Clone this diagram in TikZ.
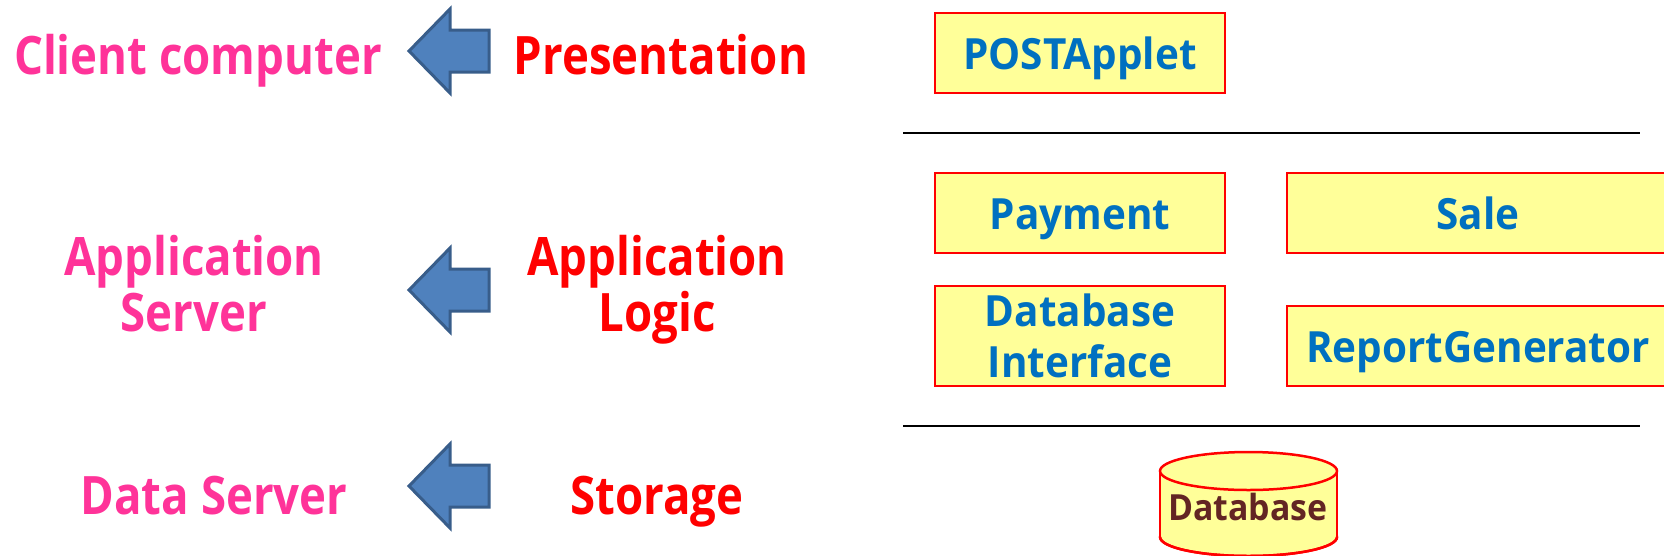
\documentclass[tikz,border=0pt]{standalone}
\usepackage{fontspec}
\setmainfont{Open Sans}[FakeStretch=0.86]
\newfontfamily\boxfont{Open Sans}[FakeStretch=0.94]
\definecolor{pinkc}{HTML}{FF3399}
\definecolor{redc}{HTML}{FF0000}
\definecolor{bluec}{HTML}{0070C0}
\definecolor{brownc}{HTML}{632523}
\definecolor{yelc}{HTML}{FFFF99}
\definecolor{arrfill}{HTML}{4F81BD}
\definecolor{arredge}{HTML}{385D8A}
\tikzset{
  side/.style={font=\bfseries\fontsize{53}{56}\selectfont, align=center, inner sep=0pt,
     text height=37.8pt, text depth=0pt},
  twoline/.style={text height=93.8pt},
  tier/.style={side, text=redc},
  host/.style={side, text=pinkc},
  comp/.style={draw=redc, line width=2.5pt, fill=yelc, text=bluec, inner sep=0pt,
     font=\boxfont\bfseries\fontsize{43}{51}\selectfont, align=center,
     text height=33.5pt, text depth=0pt},
  sepline/.style={line width=2.5pt, black},
  pics/leftarrow/.style={code={
    \draw[line width=3pt, draw=arredge, fill=arrfill, line join=miter]
      (-40,0) -- (1,-42) -- (1,-21) -- (40,-21) -- (40,21) -- (1,21) -- (1,42) -- cycle;
  }}
}
\begin{document}
\begin{tikzpicture}[x=1pt, y=-1pt]
\useasboundingbox (0,0) rectangle (1664,555);
% left labels
\node[host] (client) at (198,56) {Client computer};
\node[host, twoline] (appsrv) at (194,285) {Application\\Server};
\node[host] (datasrv) at (214,496) {Data Server};
\node[tier] (pres) at (661,56) {Presentation};
\node[tier, twoline] (logic) at (657,285) {Application\\Logic};
\node[tier] (stor) at (657,496) {Storage};
% arrows
\pic at (449,51) {leftarrow};
\pic at (449,290) {leftarrow};
\pic at (449,486) {leftarrow};
% components
\node[comp, minimum width=290pt, minimum height=80pt] (post) at (1080,53) {POSTApplet};
\draw[sepline] (903,133) coordinate (l1a) -- (1640,133) coordinate (l1b);
\node[comp, minimum width=290pt, minimum height=80pt] (pay) at (1080,213) {Payment};
\node[comp, minimum width=382pt, minimum height=80pt] (sale) at (1478,213) {Sale};
\node[comp, minimum width=290pt, minimum height=100pt, text height=83pt] (dbi) at (1080,336) {Database\\Interface};
\node[comp, minimum width=382pt, minimum height=80pt] (rep) at (1478,346) {ReportGenerator};
\draw[sepline] (903,426) coordinate (l2a) -- (1640,426) coordinate (l2b);
% database cylinder
\begin{scope}[draw=redc, line width=2.5pt]
\draw[fill=yelc] (1248.5,537) ellipse [x radius=88.5, y radius=19];
\fill[yelc] (1160,471) rectangle (1337,537);
\draw (1160,471) -- (1160,537);
\draw (1337,471) -- (1337,537);
\draw[fill=yelc] (1248.5,471) ellipse [x radius=88.5, y radius=19];
\draw (1160,537) arc[start angle=180, end angle=0, x radius=88.5, y radius=19];
\end{scope}
\node[text=brownc, font=\boxfont\bfseries\fontsize{36}{40}\selectfont, inner sep=0pt,
  text height=25.7pt, text depth=0pt] (db) at (1248,507.5) {Database};
\end{tikzpicture}
\end{document}
